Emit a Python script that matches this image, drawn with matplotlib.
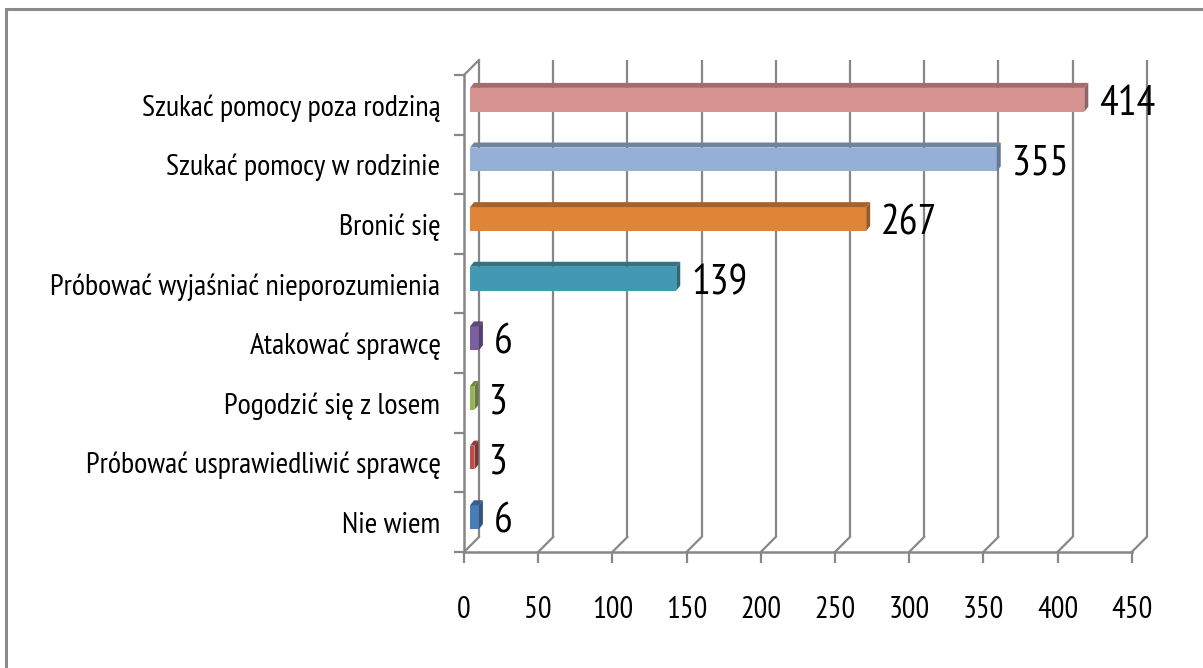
import matplotlib
matplotlib.use("Agg")
import matplotlib.pyplot as plt
from matplotlib.patches import Polygon, Rectangle
import matplotlib.colors as mcolors
import numpy as np

# ---- data (bottom to top) ----
categories = [
    "Nie wiem",
    "Próbować usprawiedliwić sprawcę",
    "Pogodzić się z losem",
    "Atakować sprawcę",
    "Próbować wyjaśniać nieporozumienia",
    "Bronić się",
    "Szukać pomocy w rodzinie",
    "Szukać pomocy poza rodziną",
]
values = [6, 3, 3, 6, 139, 267, 355, 414]
bar_colors = ["#4A7DB8", "#BC4D4A", "#94B555", "#7C609E",
              "#4299B2", "#E0843A", "#95B0D6", "#D69392"]
x_ticks = [0, 50, 100, 150, 200, 250, 300, 350, 400, 450]

plt.rcParams['font.family'] = ["PT Sans Narrow", "DejaVu Sans"]

W, H = 1203, 668
fig = plt.figure(figsize=(W / 100, H / 100), dpi=100)
fig.patch.set_facecolor("white")

# outer border (extends past right/bottom edge)
fig.patches.append(Rectangle((6 / W, -0.1), 1.2, (H - 9) / H + 0.1,
                             transform=fig.transFigure, fill=False,
                             edgecolor="#8a8a8a", linewidth=2.2, zorder=0))

ax_l, ax_r, ax_b, ax_t = 464, 1131.7, 552, 75
ax = fig.add_axes([ax_l / W, (H - ax_b) / H, (ax_r - ax_l) / W, (ax_b - ax_t) / H])
ax.set_facecolor("none")
n = len(categories)
ax.set_xlim(0, 450)
ax.set_ylim(-0.5, n - 0.5)

axis_col = "#878787"


def px(dx, dy):
    p0 = ax.transData.transform((0, 0))
    d = ax.transData.inverted().transform(p0 + np.array([dx, dy]))
    return d[0], d[1]


# back wall depth
wdx, wdy = px(15, 15)
y0, y1 = -0.5, n - 0.5
for xt in x_ticks:
    ax.plot([xt + wdx, xt + wdx], [y0 + wdy, y1 + wdy], color=axis_col, lw=1.6,
            solid_capstyle="butt", zorder=1, clip_on=False)
    ax.plot([xt, xt + wdx], [y0, y0 + wdy], color=axis_col, lw=1.6, zorder=1, clip_on=False)
ax.plot([0, wdx], [y1, y1 + wdy], color=axis_col, lw=1.6, zorder=1, clip_on=False)

# bars
bdx, bdy = px(6, 5)      # position within depth
ddx, ddy = px(4, 5)      # bar depth
bh = 0.4


def shade(c, f):
    r, g, b = mcolors.to_rgb(c)
    return (r * f, g * f, b * f)


for i, (v, c) in enumerate(zip(values, bar_colors)):
    xa, xb = bdx, v + bdx
    yb, yt = i - bh / 2 + bdy, i + bh / 2 + bdy
    ax.add_patch(Rectangle((xa, yb), xb - xa, yt - yb, facecolor=c,
                           edgecolor="none", zorder=3, clip_on=False))
    ax.add_patch(Polygon([(xa, yt), (xb, yt), (xb + ddx, yt + ddy), (xa + ddx, yt + ddy)],
                         closed=True, facecolor=shade(c, 0.75), edgecolor="none",
                         zorder=3, clip_on=False))
    ax.add_patch(Polygon([(xb, yb), (xb, yt), (xb + ddx, yt + ddy), (xb + ddx, yb + ddy)],
                         closed=True, facecolor=shade(c, 0.68), edgecolor="none",
                         zorder=3, clip_on=False))
    lx, ly = px(21, 0)
    ax.text(v + lx, i, str(v), ha="left", va="center", fontsize=30,
            color="black", zorder=4)

# spines / ticks
for s in ["top", "right"]:
    ax.spines[s].set_visible(False)
for s in ["left", "bottom"]:
    ax.spines[s].set_color(axis_col)
    ax.spines[s].set_linewidth(1.8)
    ax.spines[s].set_zorder(2)

ax.set_xticks(x_ticks)
ax.set_xticklabels([str(t) for t in x_ticks], fontsize=22)
ax.tick_params(axis="x", length=8, width=1.6, color=axis_col, pad=24)

ax.set_yticks(np.arange(-0.5, n, 1.0))
ax.set_yticklabels([])
ax.tick_params(axis="y", which="major", length=7, width=1.6, color=axis_col)
ax.set_yticks(np.arange(n), minor=True)
ax.set_yticklabels(categories, minor=True, fontsize=21.8)
ax.tick_params(axis="y", which="minor", length=0, pad=17)

fig.savefig("out.png", dpi=100, facecolor="white")
